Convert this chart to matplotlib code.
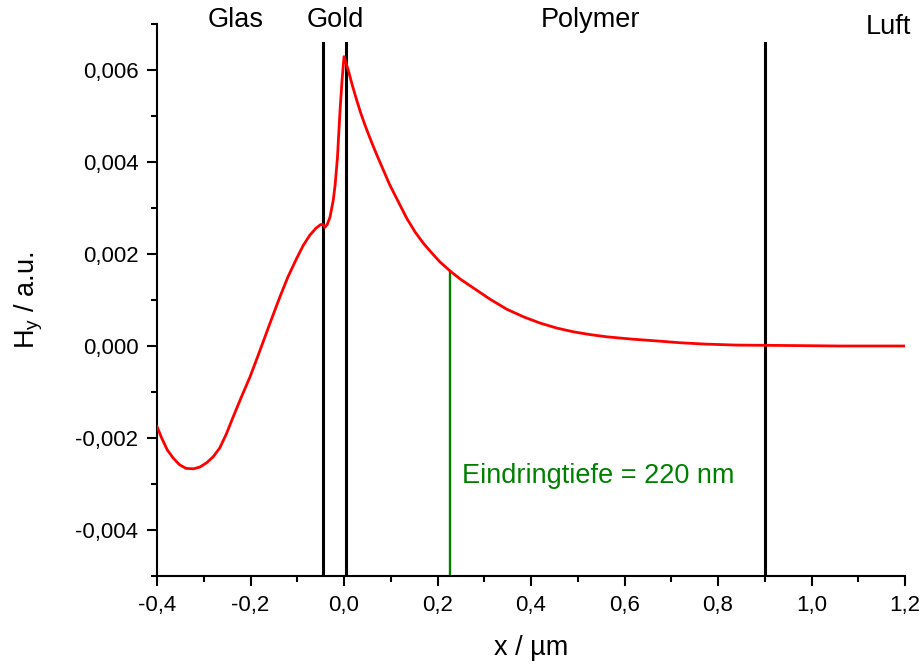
import numpy as np
import matplotlib
matplotlib.use('Agg')
import matplotlib.pyplot as plt

# Feldverlauf H_y durch Glas / Gold / Polymer / Luft
x_um = [-0.400, -0.390, -0.378, -0.365, -0.352, -0.338, -0.322, -0.308, -0.294,
        -0.280, -0.266, -0.252, -0.237, -0.220, -0.201, -0.185, -0.169, -0.153,
        -0.137, -0.120, -0.101, -0.087, -0.073, -0.060, -0.050, -0.045, -0.041,
        -0.036, -0.030, -0.023, -0.019, -0.014, -0.0086, -0.004, 0.000, 0.009,
        0.018, 0.027, 0.036, 0.045, 0.054, 0.063, 0.072, 0.081, 0.098, 0.116,
        0.134, 0.152, 0.170, 0.188, 0.205, 0.227, 0.248, 0.277, 0.312, 0.348,
        0.385, 0.419, 0.455, 0.490, 0.525, 0.562, 0.615, 0.669, 0.720, 0.776,
        0.840, 0.900, 0.980, 1.061, 1.130, 1.200]
hy = [-0.00175, -0.00200, -0.00226, -0.00244, -0.00258, -0.00266, -0.00267,
      -0.00263, -0.00254, -0.00241, -0.00222, -0.00192, -0.00154, -0.00112,
      -0.00067, -0.00024, 0.00020, 0.00064, 0.00107, 0.00150, 0.00191, 0.00219,
      0.00241, 0.00256, 0.00264, 0.00264, 0.00258, 0.00264, 0.00280, 0.00317,
      0.00350, 0.00410, 0.00510, 0.00580, 0.00629, 0.00600, 0.00566, 0.00535,
      0.00506, 0.00480, 0.00456, 0.00433, 0.00411, 0.00390, 0.00350, 0.00314,
      0.00278, 0.00248, 0.00223, 0.00202, 0.00183, 0.00163, 0.00146, 0.00126,
      0.00102, 0.00080, 0.00063, 0.00050, 0.00039, 0.00031, 0.00025, 0.00020,
      0.00015, 0.00011, 0.00007, 0.00004, 0.00002, 0.000015, 0.000008, 0.0,
      0.0, 0.0]

grenzen = [-0.045, 0.005, 0.900]
grenz_top = 0.00659
eindringtiefe = 0.227
hy_eindring = 0.00163

schichten = ['Glas', 'Gold', 'Polymer', 'Luft']
schicht_x = [-0.231, -0.019, 0.527, 1.164]
schicht_y = [0.00709, 0.00709, 0.00709, 0.00693]

plt.rcParams['font.family'] = ['Liberation Sans', 'DejaVu Sans']
plt.rcParams['mathtext.default'] = 'regular'

fig = plt.figure(figsize=(9.23, 6.64), dpi=100)
ax = fig.add_axes([157/923, 1-576/664, 748/923, 552/664])

ymin = -0.005
ax.plot(x_um, hy, color='red', lw=2.0, zorder=3)
for g in grenzen:
    ax.plot([g, g], [ymin, grenz_top], color='black', lw=2.2, zorder=2)
ax.plot([eindringtiefe, eindringtiefe], [ymin, hy_eindring], color='green', lw=1.7, zorder=2)
ax.text(0.252, -0.00283, 'Eindringtiefe = 220 nm', color='green', fontsize=19.5,
        va='center', ha='left')

for name, sx, sy in zip(schichten, schicht_x, schicht_y):
    ax.text(sx, sy, name, fontsize=19.5, ha='center', va='center', clip_on=False)

ax.set_xlim(-0.4, 1.2)
ax.set_ylim(ymin, 0.007)
ax.set_xticks(np.arange(-0.4, 1.21, 0.2))
ax.set_xticks(np.arange(-0.3, 1.2, 0.2), minor=True)
ax.set_yticks(np.arange(-0.004, 0.0061, 0.002))
ax.set_yticks(np.arange(-0.005, 0.0071, 0.002), minor=True)
ax.xaxis.set_major_formatter(plt.FuncFormatter(lambda v, p: f'{v:.1f}'.replace('.', ',').replace('-0,0', '0,0')))
ax.yaxis.set_major_formatter(plt.FuncFormatter(lambda v, p: f'{v:.3f}'.replace('.', ',').replace('-0,000', '0,000')))

for s in ['top', 'right']:
    ax.spines[s].set_visible(False)
for s in ['left', 'bottom']:
    ax.spines[s].set_linewidth(1.5)
ax.tick_params(which='major', direction='out', length=7.5, width=1.5, labelsize=16, pad=6)
ax.tick_params(which='minor', direction='out', length=4, width=1.5)

ax.set_xlabel('x / µm', fontsize=19.5, labelpad=14)
ax.set_ylabel('H$_y$ / a.u.', fontsize=19.5, labelpad=22)

fig.savefig('out.png', dpi=100)
